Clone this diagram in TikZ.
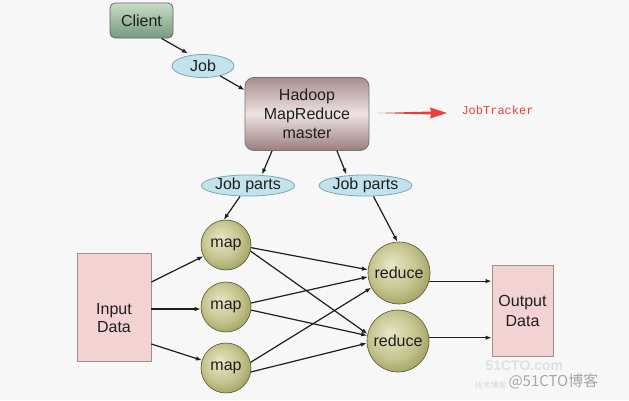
\documentclass[tikz,border=0pt]{standalone}
\usepackage{fontspec}
\setmainfont{Liberation Sans}
\newfontfamily\monof{Liberation Mono}
\newfontfamily\cjkf{Noto Sans CJK SC}
\usetikzlibrary{shapes.geometric,arrows.meta,shadings}
\definecolor{bg}{HTML}{F7F7F7}
\definecolor{lnk}{HTML}{1E1E1E}
\definecolor{ellfill}{HTML}{C2E2EC}
\definecolor{ellborder}{HTML}{7FA5B3}
\definecolor{boxfill}{HTML}{F2D2D2}
\definecolor{boxborder}{HTML}{9A9090}
\definecolor{redtxt}{HTML}{EE3B3B}
\definecolor{olivea}{HTML}{E6E6C4}
\definecolor{oliveb}{HTML}{C6C692}
\definecolor{olivec}{HTML}{969652}
\definecolor{olived}{HTML}{6C6C34}
\definecolor{mapborder}{HTML}{55552A}
\definecolor{clienttop}{HTML}{C6DCC6}
\definecolor{clientbot}{HTML}{76997F}
\definecolor{mastertop}{HTML}{A88E8E}
\definecolor{mastermid}{HTML}{EEE2E2}
\definecolor{masterbot}{HTML}{9A7E7E}
\pgfdeclareradialshading{oliveball}{\pgfpoint{-7bp}{7bp}}{%
  color(0bp)=(olivea); color(18bp)=(oliveb); color(34bp)=(olivec); color(44bp)=(olived); color(50bp)=(olived)}
\tikzset{
  every node/.style={font=\fontsize{16}{19}\selectfont, text=black!88},
  conn/.style={draw=lnk, line width=1.2pt, -{Latex[length=6pt,width=4.5pt]}},
  jobell/.style={ellipse, draw=ellborder, line width=0.8pt, fill=ellfill, inner sep=0pt},
  ballnode/.style={circle, draw=mapborder, line width=0.6pt, inner sep=0pt, shading=oliveball},
  databox/.style={rectangle, draw=boxborder, line width=0.8pt, fill=boxfill, inner sep=0pt},
}
\begin{document}
\begin{tikzpicture}[x=1pt,y=-1pt]
\useasboundingbox (0,0) rectangle (629,400);
\fill[bg] (0,0) rectangle (629,400);

% top part
\node[rectangle, rounded corners=5pt, draw=black!60, line width=0.8pt,
      top color=clienttop, bottom color=clientbot,
      minimum width=63pt, minimum height=35pt, inner sep=0pt] (client) at (141.5,20.5) {Client};
\node[jobell, minimum width=62pt, minimum height=23pt] (job) at (203,66) {Job};
\node[rectangle, rounded corners=9pt, draw=black!55, line width=0.8pt,
      top color=mastertop, bottom color=masterbot, middle color=mastermid,
      minimum width=124pt, minimum height=73pt, inner sep=0pt,
      align=center] (master) at (307,114) {Hadoop\\MapReduce\\master};

\node[jobell, minimum width=85pt, minimum height=21pt] (jp1) at (248,185.5) {Job parts};
\node[jobell, minimum width=85pt, minimum height=21pt] (jp2) at (365.5,185.5) {Job parts};

% red annotation
\node[font=\monof\fontsize{12}{14}\selectfont, text=redtxt, anchor=west] (jt) at (458,110) {JobTracker};
\coordinate (rs) at (377,113);
\fill[redtxt] (rs) -- (431,111.5) -- (430,107.5) -- (447,113) -- (430,118.5) -- (431,114.5) -- cycle;

% map and reduce
\node[ballnode, minimum size=50pt] (map1) at (226,245) {map};
\node[ballnode, minimum size=50pt] (map2) at (226,307) {map};
\node[ballnode, minimum size=50pt] (map3) at (226,368) {map};
\node[ballnode, minimum size=62pt] (red1) at (399,273) {reduce};
\node[ballnode, minimum size=62pt] (red2) at (398,341) {reduce};

% data boxes
\node[databox, minimum width=74pt, minimum height=108pt] (input) at (114,307) {};
\node[align=center, font=\fontsize{16}{18}\selectfont] (inputtxt) at (114,318) {Input\\Data};
\node[databox, minimum width=61pt, minimum height=91pt, align=center,
      font=\fontsize{16}{20}\selectfont] (output) at (522.5,310.5) {Output\\Data};

% connectors
\draw[conn] (client.south) ++(20,0) coordinate (cs) -- (188,53.5) coordinate (je);
\draw[conn] (job.-30) -- (master.west |- 0,90);
\draw[conn] ([xshift=-35pt]master.south) -- ([xshift=14pt]jp1.north);
\draw[conn] ([xshift=30pt]master.south) -- ([xshift=-19pt]jp2.north);
\draw[conn] ([xshift=-8pt]jp1.south) -- (map1.95);
\draw[conn] ([xshift=8pt]jp2.south) -- (red1.93);

\draw[conn] (input.east |- 0,282) -- (map1);
\draw[conn] (input.east |- 0,309) -- (map2.west |- 0,309);
\draw[conn] (input.east |- 0,344) -- (map3);

\draw[conn] (map1.-6) -- (red1.174);
\draw[conn] (map1.-14) -- (red2.167);
\draw[conn] (map2.9) -- (red1.187);
\draw[conn] (map2.-7) -- (red2.170);
\draw[conn] (map3.13) -- (red1.208);
\draw[conn] (map3.-9) -- (red2.184);

\draw[conn] (red1.-15) -- (red1.-15 -| output.west);
\draw[conn] (red2.6) -- (red2.6 -| output.west);

% watermark
\node[text=black!12, font=\fontsize{14}{15}\selectfont\bfseries, anchor=west] (wm1) at (482,366) {51CTO.com};
\node[text=black!15, font=\cjkf\fontsize{8}{9}\selectfont, anchor=west] (wm2) at (471,385) {技术博客};
\node[text=black!35, font=\cjkf\fontsize{15}{16}\selectfont, anchor=west] (wm3) at (505,381) {@51CTO博客};
\end{tikzpicture}
\end{document}
